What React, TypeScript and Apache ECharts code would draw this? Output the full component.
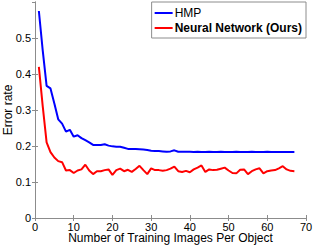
import React, { useEffect, useRef } from "react";
import * as echarts from "echarts";

const xValues: number[] = Array.from({ length: 67 }, (_, i) => i + 1);

const hmp: number[] = [
  0.575, 0.465, 0.367, 0.36, 0.318, 0.274, 0.262, 0.24, 0.245, 0.226,
  0.23, 0.222, 0.216, 0.21, 0.203, 0.203, 0.203, 0.205, 0.201, 0.199,
  0.198, 0.198, 0.195, 0.192, 0.192, 0.192, 0.191, 0.19, 0.189, 0.187,
  0.186, 0.186, 0.185, 0.184, 0.185, 0.188, 0.184, 0.184, 0.184, 0.184,
  0.183, 0.184, 0.183, 0.183, 0.184, 0.183, 0.183, 0.184, 0.183, 0.183,
  0.183, 0.184, 0.183, 0.183, 0.183, 0.184, 0.183, 0.183, 0.183, 0.184,
  0.183, 0.183, 0.183, 0.183, 0.183, 0.183, 0.183,
];

const neural: number[] = [
  0.42, 0.31, 0.21, 0.183, 0.168, 0.158, 0.155, 0.132, 0.133, 0.125,
  0.132, 0.135, 0.148, 0.132, 0.122, 0.13, 0.13, 0.133, 0.135, 0.12,
  0.133, 0.137, 0.13, 0.134, 0.128, 0.136, 0.145, 0.133, 0.122, 0.138,
  0.133, 0.133, 0.131, 0.133, 0.137, 0.143, 0.13, 0.128, 0.131, 0.127,
  0.135, 0.14, 0.146, 0.128, 0.135, 0.133, 0.134, 0.137, 0.14, 0.132,
  0.125, 0.124, 0.134, 0.135, 0.122, 0.13, 0.135, 0.138, 0.124, 0.13,
  0.132, 0.133, 0.138, 0.144, 0.135, 0.131, 0.13,
];

const seriesNames: string[] = ["HMP", "Neural Network (Ours)"];
const xTitle = "Number of Training Images Per Object";
const yTitle = "Error rate";

export default function App() {
  const ref = useRef<HTMLDivElement>(null);
  useEffect(() => {
    if (!ref.current) return;
    const chart = echarts.init(ref.current, null, { renderer: "svg" });
    const font = "Liberation Sans";
    const axisColor = "#8c8c8c";
    const fs = 12;
    const tfs = 11;
    chart.setOption({
      animation: false,
      textStyle: { fontFamily: font },
      grid: {
        left: 35,
        right: 8,
        top: 2,
        bottom: 28,
        containLabel: false,
        outerBoundsMode: "none",
      },
      legend: {
        orient: "vertical",
        right: 8,
        top: 2,
        data: seriesNames,
        icon: "rect",
        itemWidth: 18,
        itemHeight: 2,
        itemGap: 3,
        padding: [5, 4, 4, 3],
        borderColor: axisColor,
        borderWidth: 1,
        borderRadius: 0,
        backgroundColor: "#fff",
        textStyle: {
          fontSize: fs,
          color: "#000",
          fontFamily: font,
          padding: [0, 0, 0, -3],
          rich: { b: { fontWeight: "bold", fontSize: fs, fontFamily: font, color: "#000" } },
        },
        formatter: (name: string) =>
          name === seriesNames[1] ? "{b|" + name + "}" : name,
      } as any,
      xAxis: [
        {
          type: "value",
          min: 0,
          max: 70,
          interval: 10,
          name: xTitle,
          nameLocation: "middle",
          nameGap: 14,
          nameMoveOverlap: false,
          nameTextStyle: { fontSize: fs, color: "#000", fontFamily: font },
          axisLine: { show: true, lineStyle: { color: axisColor } },
          axisTick: { inside: true, length: 3, lineStyle: { color: axisColor } },
          axisLabel: { fontSize: tfs, color: "#000", margin: 3, fontFamily: font },
          splitLine: { show: false },
        },
        {
          type: "value",
          position: "top",
          min: 0,
          max: 70,
          interval: 10,
          axisLine: { show: true, lineStyle: { color: axisColor } },
          axisTick: { inside: true, length: 3, lineStyle: { color: axisColor } },
          axisLabel: { show: false },
          splitLine: { show: false },
        },
      ],
      yAxis: [
        {
          type: "value",
          min: 0,
          max: 0.6,
          interval: 0.1,
          name: yTitle,
          nameLocation: "middle",
          nameGap: 21,
          nameMoveOverlap: false,
          nameTextStyle: { fontSize: fs, color: "#000", fontFamily: font },
          axisLine: { show: true, lineStyle: { color: axisColor } },
          axisTick: { inside: true, length: 3, lineStyle: { color: axisColor } },
          axisLabel: {
            fontSize: tfs,
            color: "#000",
            margin: 4,
            showMaxLabel: false,
            fontFamily: font,
            formatter: (v: number) => (v === 0 ? "0" : v.toFixed(1)),
          },
          splitLine: { show: false },
        },
        {
          type: "value",
          position: "right",
          min: 0,
          max: 0.6,
          interval: 0.1,
          axisLine: { show: true, lineStyle: { color: axisColor } },
          axisTick: { inside: true, length: 3, lineStyle: { color: axisColor } },
          axisLabel: { show: false },
          splitLine: { show: false },
        },
      ],
      series: [
        {
          name: seriesNames[0],
          type: "line",
          data: xValues.map((x, i) => [x, hmp[i]]),
          showSymbol: false,
          lineStyle: { color: "#0000ff", width: 2 },
          itemStyle: { color: "#0000ff" },
        },
        {
          name: seriesNames[1],
          type: "line",
          data: xValues.map((x, i) => [x, neural[i]]),
          showSymbol: false,
          lineStyle: { color: "#ff0000", width: 2 },
          itemStyle: { color: "#ff0000" },
        },
      ],
    });
    return () => chart.dispose();
  }, []);
  return <div ref={ref} style={{ width: 314, height: 246, position: "absolute", left: 0, top: 0 }} />;
}
